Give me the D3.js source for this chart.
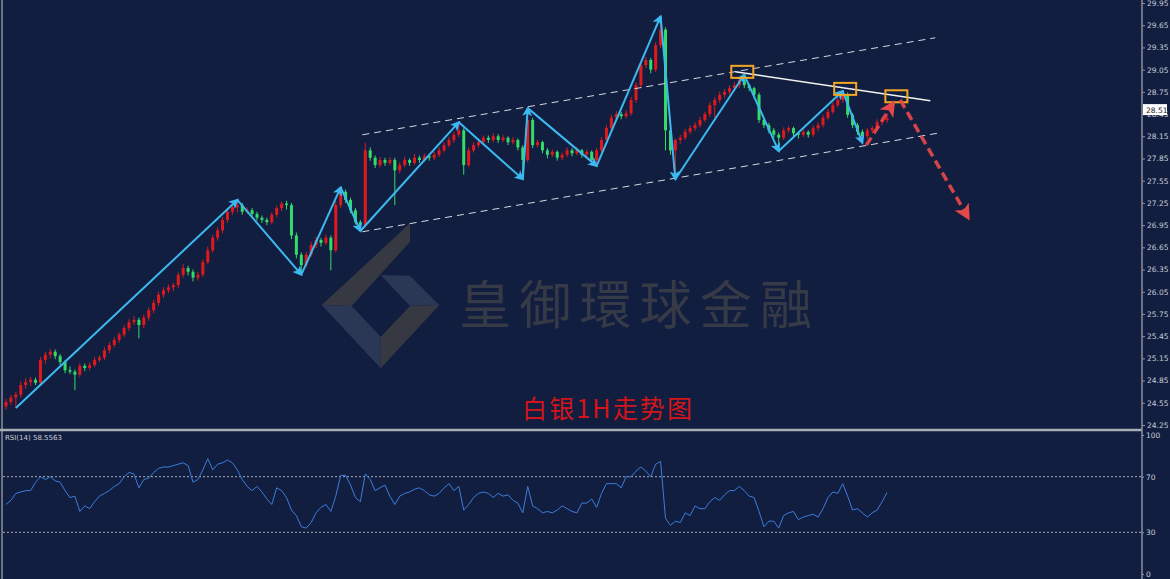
<!DOCTYPE html>
<html lang="zh">
<head>
<meta charset="UTF-8">
<title>白银1H走势图</title>
<style>
  html, body { margin: 0; padding: 0; background: #111e40; overflow: hidden; }
  svg { display: block; }
  .axis text { font-family: "DejaVu Sans", sans-serif; font-size: 7.5px; fill: #c9ced8; }
  .axis line, .axis path { stroke: #8c919b; }
</style>
</head>
<body>
<div id="chart"></div>
<script src="https://cdn.jsdelivr.net/npm/d3@7"></script>
<script>
// ---- data ----
// hourly candles: [open, high, low, close]
const candles = [
  [24.50,24.60,24.46,24.56],[24.56,24.66,24.52,24.62],[24.62,24.70,24.48,24.66],[24.66,24.84,24.62,24.79],[24.79,24.88,24.74,24.83],[24.83,24.90,24.78,24.86],
  [24.86,24.89,24.79,24.82],[24.82,25.17,24.80,25.13],[25.13,25.24,25.08,25.20],[25.20,25.28,25.15,25.24],[25.24,25.27,25.14,25.18],[25.18,25.21,25.06,25.10],
  [25.10,25.13,24.95,24.99],[24.99,25.04,24.94,24.97],[24.97,25.00,24.72,24.93],[24.93,25.09,24.90,25.05],[25.05,25.08,24.98,25.02],[25.02,25.10,24.99,25.06],
  [25.06,25.17,25.03,25.13],[25.13,25.19,25.10,25.16],[25.16,25.30,25.13,25.26],[25.26,25.37,25.22,25.33],[25.33,25.44,25.30,25.40],[25.40,25.50,25.36,25.47],
  [25.47,25.60,25.44,25.56],[25.56,25.68,25.52,25.64],[25.64,25.72,25.60,25.67],[25.67,25.70,25.42,25.60],[25.60,25.74,25.56,25.70],[25.70,25.84,25.66,25.80],
  [25.80,25.94,25.76,25.90],[25.90,26.05,25.86,26.01],[26.01,26.11,25.97,26.07],[26.07,26.15,26.03,26.11],[26.11,26.17,26.06,26.14],[26.14,26.31,26.10,26.28],
  [26.28,26.42,26.24,26.37],[26.37,26.40,26.27,26.32],[26.32,26.35,26.19,26.24],[26.24,26.32,26.20,26.28],[26.28,26.49,26.25,26.45],[26.45,26.66,26.42,26.61],
  [26.61,26.82,26.58,26.78],[26.78,26.92,26.74,26.88],[26.88,27.06,26.84,27.02],[27.02,27.17,26.98,27.13],[27.13,27.23,27.09,27.19],[27.19,27.29,27.12,27.22],
  [27.22,27.25,27.09,27.13],[27.13,27.19,27.10,27.15],[27.15,27.18,27.06,27.10],[27.10,27.13,27.01,27.05],[27.05,27.08,26.98,27.02],[27.02,27.05,26.95,26.99],
  [26.99,27.12,26.96,27.09],[27.09,27.21,27.06,27.18],[27.18,27.27,27.14,27.24],[27.24,27.28,27.16,27.22],[27.22,27.25,26.76,26.81],[26.81,26.85,26.50,26.55],
  [26.55,26.58,26.28,26.41],[26.41,26.59,26.38,26.55],[26.55,26.72,26.52,26.68],[26.68,26.79,26.64,26.75],[26.75,26.78,26.66,26.71],[26.71,26.82,26.68,26.78],
  [26.78,26.81,26.34,26.61],[26.61,27.27,26.58,27.22],[27.22,27.46,27.18,27.40],[27.40,27.43,27.25,27.29],[27.29,27.32,27.11,27.15],[27.15,27.18,26.96,26.99],
  [26.99,27.02,26.87,26.95],[26.95,28.06,26.92,27.96],[27.96,28.00,27.82,27.86],[27.86,27.89,27.72,27.76],[27.76,27.87,27.73,27.83],[27.83,27.86,27.75,27.79],
  [27.79,27.87,27.76,27.83],[27.83,27.86,27.22,27.69],[27.69,27.80,27.65,27.76],[27.76,27.87,27.73,27.83],[27.83,27.85,27.75,27.79],[27.79,27.91,27.76,27.86],
  [27.86,27.89,27.79,27.83],[27.83,27.92,27.80,27.88],[27.88,27.90,27.82,27.86],[27.86,27.94,27.83,27.90],[27.90,28.00,27.87,27.96],[27.96,28.07,27.93,28.03],
  [28.03,28.14,28.00,28.10],[28.10,28.21,28.06,28.17],[28.17,28.34,28.14,28.23],[28.23,28.26,27.63,27.76],[27.76,28.00,27.73,27.96],[27.96,28.07,27.93,28.03],
  [28.03,28.10,28.00,28.07],[28.07,28.16,28.04,28.13],[28.13,28.16,28.06,28.10],[28.10,28.19,28.07,28.15],[28.15,28.18,28.06,28.10],[28.10,28.17,28.07,28.13],
  [28.13,28.15,28.03,28.07],[28.07,28.14,28.04,28.10],[28.10,28.12,27.96,28.00],[28.00,28.03,27.57,27.83],[27.83,28.53,27.80,28.37],[28.37,28.40,27.99,28.03],
  [28.03,28.10,28.00,28.07],[28.07,28.09,27.92,27.96],[27.96,27.99,27.85,27.90],[27.90,27.97,27.87,27.94],[27.94,27.96,27.82,27.86],[27.86,27.93,27.83,27.90],
  [27.90,28.00,27.87,27.96],[27.96,27.99,27.88,27.92],[27.92,28.00,27.89,27.96],[27.96,27.98,27.86,27.90],[27.90,27.97,27.87,27.94],[27.94,27.96,27.80,27.83],
  [27.83,27.99,27.75,27.96],[27.96,28.14,27.93,28.10],[28.10,28.30,28.07,28.26],[28.26,28.44,28.22,28.40],[28.40,28.49,28.36,28.45],[28.45,28.48,28.38,28.42],
  [28.42,28.50,28.39,28.46],[28.46,28.68,28.43,28.64],[28.64,28.88,28.60,28.84],[28.84,29.15,28.80,29.11],[29.11,29.22,29.07,29.18],[29.18,29.21,29.00,29.05],
  [29.05,29.42,29.02,29.38],[29.38,29.77,29.34,29.59],[29.59,29.62,27.96,28.23],[28.23,28.26,27.90,27.96],[27.96,28.12,27.57,28.10],[28.10,28.17,28.05,28.13],
  [28.13,28.25,28.10,28.21],[28.21,28.30,28.18,28.26],[28.26,28.34,28.22,28.30],[28.30,28.41,28.27,28.37],[28.37,28.48,28.34,28.45],[28.45,28.61,28.41,28.57],
  [28.57,28.68,28.40,28.64],[28.64,28.75,28.60,28.71],[28.71,28.79,28.67,28.75],[28.75,28.84,28.71,28.80],[28.80,28.88,28.76,28.84],[28.84,28.95,28.80,28.91],
  [28.91,28.98,28.80,28.84],[28.84,28.86,28.76,28.80],[28.80,28.82,28.66,28.71],[28.71,28.74,28.33,28.37],[28.37,28.40,28.26,28.30],[28.30,28.33,28.19,28.23],
  [28.23,28.26,28.13,28.17],[28.17,28.20,27.95,28.13],[28.13,28.27,28.10,28.23],[28.23,28.29,28.20,28.26],[28.26,28.28,28.15,28.19],[28.19,28.21,28.12,28.17],
  [28.17,28.25,28.14,28.21],[28.21,28.23,28.13,28.17],[28.17,28.30,28.14,28.26],[28.26,28.34,28.22,28.30],[28.30,28.44,28.27,28.40],[28.40,28.52,28.37,28.48],
  [28.48,28.61,28.45,28.57],[28.57,28.68,28.54,28.64],[28.64,28.76,28.60,28.71],[28.71,28.74,28.40,28.44],[28.44,28.46,28.26,28.30],[28.30,28.33,28.17,28.21],
  [28.21,28.24,28.06,28.15],[28.15,28.26,28.12,28.23],[28.23,28.29,28.19,28.26],[28.26,28.38,28.23,28.34],[28.34,28.41,28.30,28.37],[28.37,28.46,28.33,28.40]
];

// RSI(14), one value per candle
const rsiValues = [
  50,53,58,59,60,60,66,70,68,70,67,66,60,55,56,45,49,47,52,56,
  58,60,63,65,70,73,72,62,68,69,73,76,77,77,78,79,80,78,66,68,
  75,83,75,79,80,82,80,75,68,63,60,63,59,54,50,62,60,55,46,42,
  34,33,37,44,48,50,45,56,71,71,64,55,52,72,68,60,62,64,56,50,
  56,58,59,61,62,60,57,56,58,62,65,60,63,46,50,55,58,59,58,55,
  58,56,57,53,51,44,63,49,47,44,45,44,46,49,47,45,44,51,51,54,
  48,58,65,65,65,62,70,70,74,77,74,70,79,81,40,35,38,37,44,42,
  49,47,47,52,55,53,57,60,60,63,60,56,55,45,34,38,38,33,42,44,
  45,39,41,42,43,41,47,55,59,58,65,56,46,47,44,41,44,46,52,58.56
];

const priceTicks = [29.95,29.65,29.35,29.05,28.75,28.45,28.15,27.85,27.55,27.25,26.95,26.65,26.35,26.05,25.75,25.45,25.15,24.85,24.55,24.25];
const rsiTicks = [100, 70, 30, 0];
const rsiLevels = [70, 30];
const lastPrice = 28.51;
const rsiLabel = "RSI(14) 58.5563";
const title = "白银1H走势图";
const watermark = "皇御環球金融";

// analysis drawn on the chart: [candle index, price]
const zigzag = [[2,24.48],[47,27.29],[60,26.28],[68,27.46],[72,26.87],[92,28.34],[105,27.57],[106,28.53],
                [120,27.75],[133,29.77],[136,27.57],[150,28.98],[157,27.95],[170,28.76],[174,28.06]];
const channelUpper = [[72.4,28.17],[188.8,29.48]];
const channelLower = [[72.4,26.86],[189.2,28.19]];
const resistance = [[148.2,29.02],[187.8,28.63]];
const markBoxes = [[149.6,29.02],[170.5,28.79],[180.9,28.69]];
const forecastUp = [[174.8,28.03],[180.3,28.60]];
const forecastDown = [[181.7,28.64],[195.5,27.05]];

// ---- layout ----
const W = 1170, H = 579;
const axisX = 1142;
const sepY = 430;

const x = d3.scaleLinear().domain([0, candles.length - 1]).range([6, 887]);
const y = d3.scaleLinear().domain([24.25, 29.95]).range([425, 3]);
const yR = d3.scaleLinear().domain([0, 100]).range([574, 435]);

const svg = d3.select("#chart").append("svg")
  .attr("width", W).attr("height", H);

svg.append("rect").attr("width", W).attr("height", H).attr("fill", "#111e40");

const defs = svg.append("defs");
defs.append("clipPath").attr("id", "clipPrice")
  .append("rect").attr("x", 3).attr("y", 0).attr("width", axisX - 3).attr("height", sepY - 1);

function arrowMarker(id, color, size) {
  defs.append("marker")
    .attr("id", id)
    .attr("viewBox", "0 0 10 10")
    .attr("refX", 8).attr("refY", 5)
    .attr("markerUnits", "userSpaceOnUse")
    .attr("markerWidth", size).attr("markerHeight", size)
    .attr("orient", "auto")
    .append("path").attr("d", "M0,0 L10,5 L0,10 L2.5,5 z").attr("fill", color);
}
arrowMarker("arrBlue", "#3cb9f0", 10);
arrowMarker("arrRed", "#e5484a", 16);

// ---- watermark ----
const wm = svg.append("g").attr("opacity", 0.95);
const wmPieces = [
  { pts: [[321.7,305],[410,223.3],[410,241.7],[351.7,306]], fill: "#393b42" },
  { pts: [[380.7,275],[410,275.7],[439.3,305],[410,306]], fill: "#2c3957" },
  { pts: [[321.7,305],[351.7,306],[380.7,336.7],[380.7,368.3]], fill: "#2c3957" },
  { pts: [[380.7,368.3],[380.7,336.7],[410,306],[439.3,305]], fill: "#393b42" }
];
wm.selectAll("polygon").data(wmPieces).join("polygon")
  .attr("points", d => d.pts.map(p => p.join(",")).join(" "))
  .attr("fill", d => d.fill);
wm.append("text")
  .attr("x", 459).attr("y", 324)
  .attr("textLength", 353).attr("lengthAdjust", "spacing")
  .attr("font-family", "'Noto Sans CJK TC', 'Noto Sans CJK SC', sans-serif")
  .attr("font-size", 52)
  .attr("fill", "#383c47")
  .text(watermark);

// ---- price panel ----
const price = svg.append("g").attr("clip-path", "url(#clipPrice)");

const bw = 3;
const candle = price.selectAll(".candle").data(candles).join("g").attr("class", "candle");
candle.append("line")
  .attr("x1", (d, i) => x(i)).attr("x2", (d, i) => x(i))
  .attr("y1", d => y(d[1])).attr("y2", d => y(d[2]))
  .attr("stroke", d => d[3] >= d[0] ? "#e0191d" : "#34dc68")
  .attr("stroke-width", 1);
candle.append("rect")
  .attr("x", (d, i) => x(i) - bw / 2)
  .attr("y", d => y(Math.max(d[0], d[3])))
  .attr("width", bw)
  .attr("height", d => Math.max(1, Math.abs(y(d[0]) - y(d[3]))))
  .attr("fill", d => d[3] >= d[0] ? "#e0191d" : "#34dc68");

const line = d3.line().x(d => x(d[0])).y(d => y(d[1]));

// channel
[channelUpper, channelLower].forEach(seg => {
  price.append("path").attr("d", line(seg))
    .attr("fill", "none").attr("stroke", "#d6d9e0")
    .attr("stroke-width", 1).attr("stroke-dasharray", "7,5");
});

// resistance
price.append("path").attr("d", line(resistance))
  .attr("fill", "none").attr("stroke", "#f2f2f2").attr("stroke-width", 1.5);

// zigzag with arrow heads
const segs = d3.pairs(zigzag);
price.selectAll(".zz").data(segs).join("path")
  .attr("class", "zz")
  .attr("d", d => line(d))
  .attr("fill", "none")
  .attr("stroke", "#3cb9f0")
  .attr("stroke-width", 2)
  .attr("marker-end", "url(#arrBlue)");

// orange boxes
price.selectAll(".box").data(markBoxes).join("rect")
  .attr("class", "box")
  .attr("x", d => x(d[0]) - 11).attr("y", d => y(d[1]) - 6)
  .attr("width", 22).attr("height", 12)
  .attr("fill", "none").attr("stroke", "#f2a623").attr("stroke-width", 2);

// forecast arrows
[forecastUp, forecastDown].forEach(seg => {
  price.append("path").attr("d", line(seg))
    .attr("fill", "none").attr("stroke", "#e5484a").attr("stroke-opacity", 0.92)
    .attr("stroke-width", 3.5).attr("stroke-dasharray", "9,5")
    .attr("marker-end", "url(#arrRed)");
});

// title
svg.append("text")
  .attr("x", 522).attr("y", 418)
  .attr("textLength", 170).attr("lengthAdjust", "spacing")
  .attr("font-family", "'Noto Sans CJK SC', sans-serif")
  .attr("font-size", 25)
  .attr("fill", "#d4141b")
  .text(title);

// ---- RSI panel ----
svg.selectAll(".lvl").data(rsiLevels).join("line")
  .attr("class", "lvl")
  .attr("x1", 3).attr("x2", axisX)
  .attr("y1", d => yR(d)).attr("y2", d => yR(d))
  .attr("stroke", "#aab0bc").attr("stroke-width", 1).attr("stroke-dasharray", "2,2");

svg.append("path")
  .attr("d", d3.line().x((d, i) => x(i)).y(d => yR(d))(rsiValues))
  .attr("fill", "none").attr("stroke", "#3d7ddb").attr("stroke-width", 1);

svg.append("text")
  .attr("x", 5).attr("y", 440)
  .attr("font-family", "'DejaVu Sans', sans-serif").attr("font-size", 7)
  .attr("fill", "#c9ced8")
  .text(rsiLabel);

// ---- frame ----
svg.append("line").attr("x1", 2).attr("x2", 2).attr("y1", 0).attr("y2", H)
  .attr("stroke", "#8a8f99").attr("stroke-width", 1.5);
svg.append("line").attr("x1", 0).attr("x2", axisX).attr("y1", sepY).attr("y2", sepY)
  .attr("stroke", "#a9adb5").attr("stroke-width", 2.5);

// axes
const yAxis = d3.axisRight(y).tickValues(priceTicks).tickSize(3).tickPadding(2).tickFormat(d3.format(".2f"));
svg.append("g").attr("class", "axis")
  .attr("transform", `translate(${axisX},0)`)
  .call(yAxis)
  .call(g => g.select(".domain").remove());

const rAxis = d3.axisRight(yR).tickValues(rsiTicks).tickSize(2).tickPadding(2);
svg.append("g").attr("class", "axis")
  .attr("transform", `translate(${axisX},0)`)
  .call(rAxis)
  .call(g => g.select(".domain").remove());

svg.append("line").attr("x1", axisX).attr("x2", axisX).attr("y1", 0).attr("y2", H)
  .attr("stroke", "#8c919b").attr("stroke-width", 1.5);

// last price tag
const tag = svg.append("g").attr("transform", `translate(${axisX + 1},${y(lastPrice)})`);
tag.append("rect").attr("x", 0).attr("y", -5.5).attr("width", 24).attr("height", 11).attr("fill", "#ffffff");
tag.append("text").attr("x", 3).attr("y", 3)
  .attr("font-family", "'DejaVu Sans', sans-serif").attr("font-size", 7.5)
  .attr("fill", "#222").text(d3.format(".2f")(lastPrice));
</script>
</body>
</html>
